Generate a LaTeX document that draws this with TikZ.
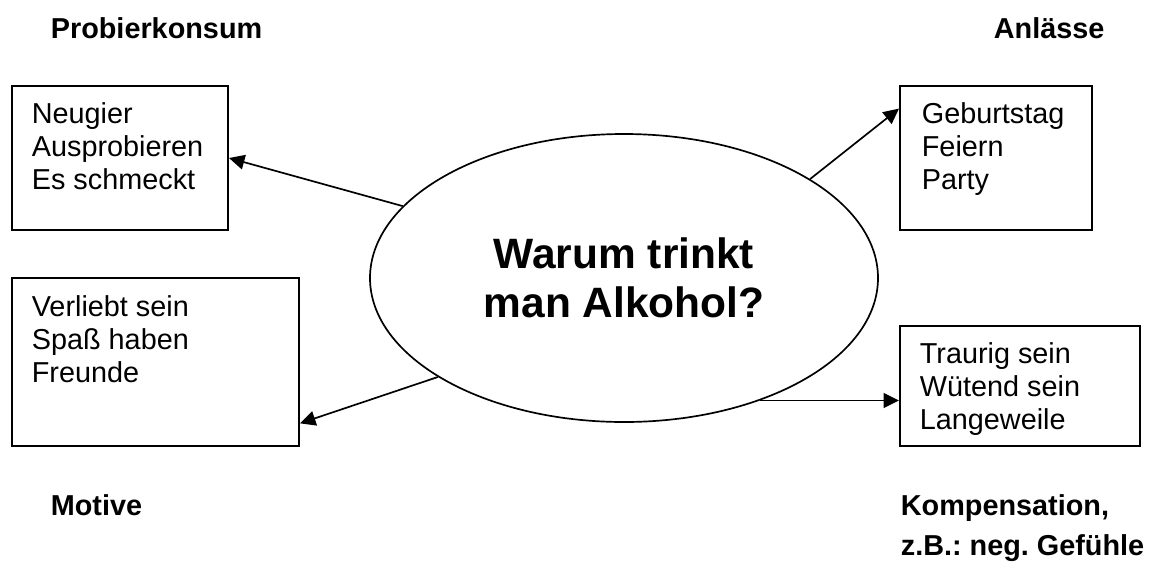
\documentclass[tikz,border=0pt]{standalone}
\usepackage{fontspec}
\setmainfont{Liberation Sans}
\usetikzlibrary{arrows.meta,shapes.geometric,positioning}
\frenchspacing

\begin{document}
\begin{tikzpicture}[>={Triangle[length=11pt,width=10.5pt]}, line width=1.2pt,
    font=\fontsize{20.5}{23.5}\selectfont,
    kasten/.style={draw, rectangle, inner sep=0pt, line width=1.4pt},
    liste/.style={align=left, inner sep=0pt},
    titel/.style={align=left, inner sep=0pt,
      font=\fontsize{20.5}{28.45}\selectfont\bfseries}]
  \useasboundingbox (0,0) rectangle (28.9,-14.25);
  % question in the middle
  \node (frage) at (15.6,-6.95) [ellipse, draw, minimum width=12.7cm,
    minimum height=7.2cm, inner sep=0pt, align=center,
    font=\fontsize{30.2}{34.9}\selectfont\bfseries] {Warum trinkt\\man Alkohol?};
  % the four boxes
  \node (probier) at (3.0,-3.95) [kasten, minimum width=5.4cm, minimum height=3.6cm] {};
  \node (probtext) [liste, below right=0.425cm and 0.5cm of probier.north west]
    {Neugier\\Ausprobieren\\Es schmeckt};
  \node (anlass) at (24.9,-3.95) [kasten, minimum width=4.8cm, minimum height=3.6cm] {};
  \node (anlasstext) [liste, below right=0.425cm and 0.55cm of anlass.north west]
    {Geburtstag\\Feiern\\Party};
  \node (motiv) at (3.8875,-9.05) [kasten, minimum width=7.175cm, minimum height=4.2cm] {};
  \node (motivtext) [liste, below right=0.45cm and 0.5cm of motiv.north west]
    {Verliebt sein\\Spaß haben\\Freunde};
  \node (komp) at (25.5,-9.65) [kasten, minimum width=6.0cm, minimum height=3.0cm] {};
  \node (komptext) [liste, below right=0.425cm and 0.5cm of komp.north west]
    {Traurig sein\\Wütend sein\\Langeweile};
  % headings
  \node (probtitel) at (1.25,-0.95) [titel, anchor=base west] {Probierkonsum};
  \node (anlasstitel) at (24.825,-0.95) [titel, anchor=base west] {Anlässe};
  \node (motivtitel) at (1.25,-12.875) [titel, anchor=base west] {Motive};
  \node (komptitel) at (22.5,-12.35) [titel, anchor=north west]
    {Kompensation,\\z.B.: neg. Gefühle};
  % arrows
  \draw[->] (frage.162) -- (probier.east);
  \draw[->] (frage.28) -- (anlass.153);
  \draw[->] (frage.208) -- (motiv.-23);
  \draw[->] (frage.-42) -- (frage.-42 -| komp.west);
\end{tikzpicture}
\end{document}
